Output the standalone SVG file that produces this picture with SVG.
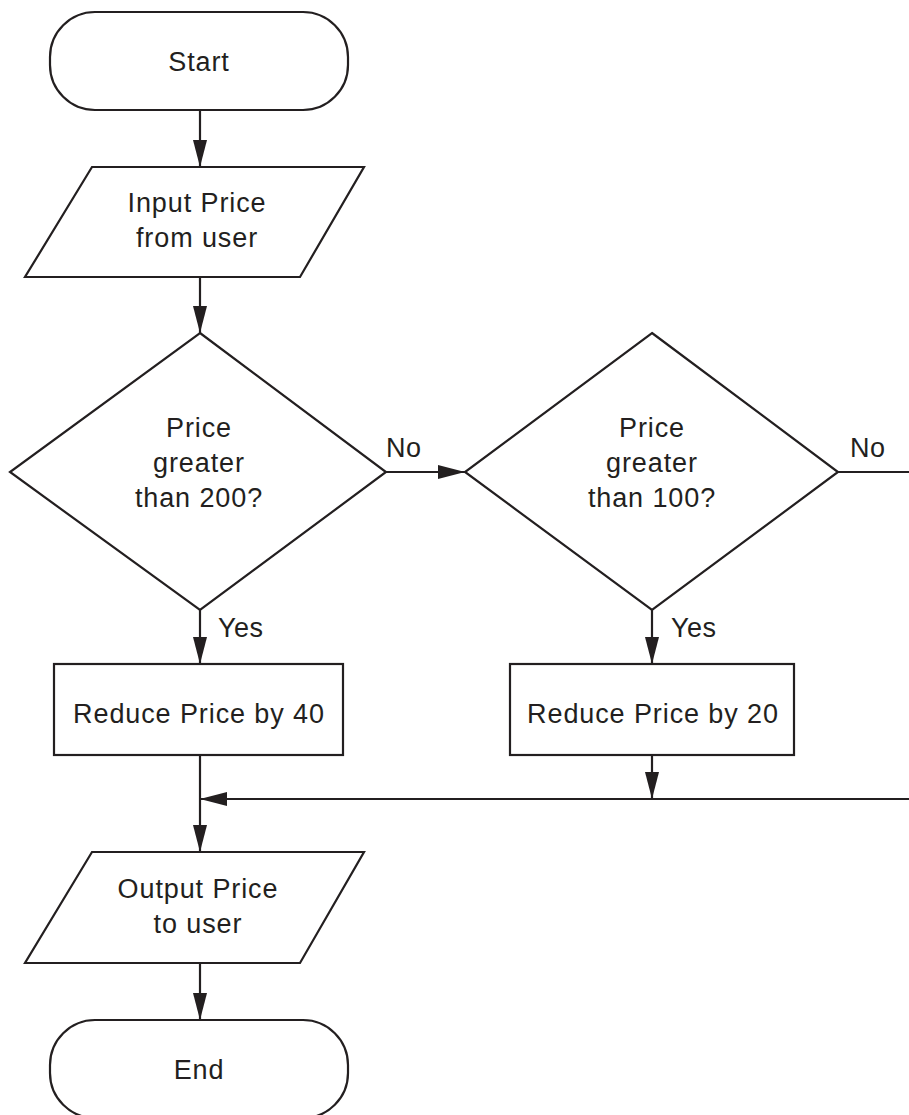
<svg xmlns="http://www.w3.org/2000/svg" width="909" height="1115" viewBox="0 0 909 1115">
<style>
.s{fill:#fff;stroke:#231f20;stroke-width:2.2;stroke-linejoin:miter}
.c{fill:none;stroke:#231f20;stroke-width:2.2}
.t{font-family:"Liberation Sans",Arial,sans-serif;font-size:27px;fill:#231f20;text-anchor:middle;letter-spacing:0.9px}
.l{font-family:"Liberation Sans",Arial,sans-serif;font-size:27px;fill:#231f20;letter-spacing:0.5px}
</style>
<defs>
<marker id="ah" markerUnits="userSpaceOnUse" markerWidth="28" markerHeight="15" refX="27" refY="7" orient="auto">
<path d="M0,0 L27,7 L0,14 z" fill="#231f20"/>
</marker>
</defs>
<rect width="909" height="1115" fill="#fff"/>
<g id="connectors">
<line class="c" x1="200" y1="110" x2="200" y2="167" marker-end="url(#ah)"/>
<line class="c" x1="200" y1="277" x2="200" y2="333" marker-end="url(#ah)"/>
<line class="c" x1="200" y1="610" x2="200" y2="664" marker-end="url(#ah)"/>
<line class="c" x1="386" y1="472" x2="465" y2="472" marker-end="url(#ah)"/>
<line class="c" x1="652" y1="610" x2="652" y2="664" marker-end="url(#ah)"/>
<line class="c" x1="652" y1="755" x2="652" y2="799" marker-end="url(#ah)"/>
<line class="c" x1="838" y1="472" x2="912" y2="472"/>
<line class="c" x1="912" y1="799" x2="200" y2="799" marker-end="url(#ah)"/>
<line class="c" x1="200" y1="755" x2="200" y2="852" marker-end="url(#ah)"/>
<line class="c" x1="200" y1="963" x2="200" y2="1020" marker-end="url(#ah)"/>
<text class="l" x="386" y="457">No</text>
<text class="l" x="850" y="457">No</text>
<text class="l" x="218" y="637">Yes</text>
<text class="l" x="671" y="637">Yes</text>
</g>
<g id="start">
<rect class="s" x="50" y="12" width="298" height="98" rx="45" ry="45"/>
<text class="t" x="199" y="71">Start</text>
</g>
<g id="input">
<polygon class="s" points="92,167 364,167 300,277 25,277"/>
<text class="t" x="197" y="212">Input Price</text>
<text class="t" x="197" y="247">from user</text>
</g>
<g id="decision1">
<polygon class="s" points="200,333 386,472 200,610 10,472"/>
<text class="t" x="199" y="437">Price</text>
<text class="t" x="199" y="472">greater</text>
<text class="t" x="199" y="507">than 200?</text>
</g>
<g id="decision2">
<polygon class="s" points="652,333 838,472 652,610 465,472"/>
<text class="t" x="652" y="437">Price</text>
<text class="t" x="652" y="472">greater</text>
<text class="t" x="652" y="507">than 100?</text>
</g>
<g id="reduce40">
<rect class="s" x="54" y="664" width="289" height="91"/>
<text class="t" x="199" y="723">Reduce Price by 40</text>
</g>
<g id="reduce20">
<rect class="s" x="510" y="664" width="284" height="91"/>
<text class="t" x="653" y="723">Reduce Price by 20</text>
</g>
<g id="output">
<polygon class="s" points="92,852 364,852 300,963 25,963"/>
<text class="t" x="198" y="898">Output Price</text>
<text class="t" x="198" y="933">to user</text>
</g>
<g id="end">
<rect class="s" x="50" y="1020" width="298" height="98" rx="45" ry="45"/>
<text class="t" x="199" y="1079">End</text>
</g>
</svg>
